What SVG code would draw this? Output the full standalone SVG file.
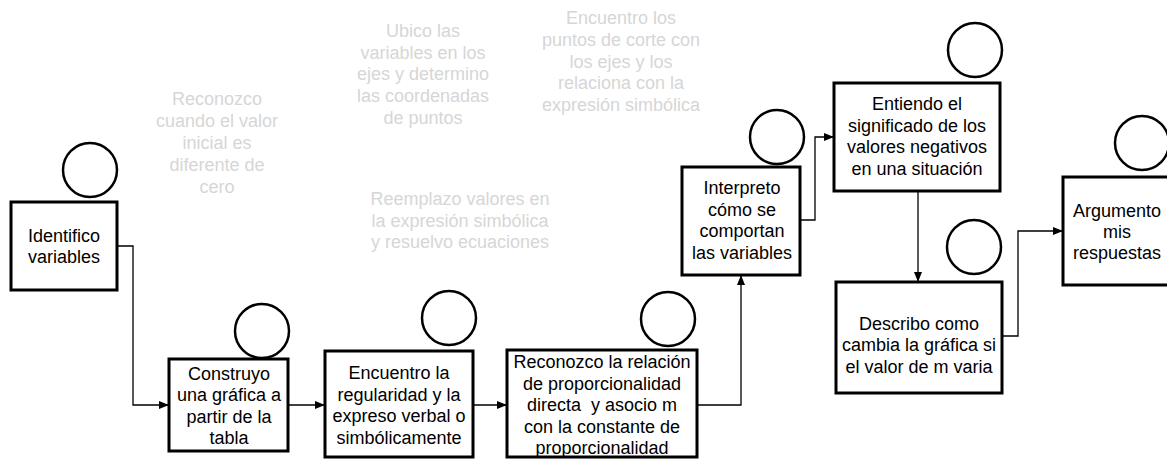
<svg xmlns="http://www.w3.org/2000/svg" width="1167" height="459" viewBox="0 0 1167 459">
<style>
  .box { fill: #ffffff; stroke: #000000; stroke-width: 3; }
  .circ { fill: #ffffff; stroke: #000000; stroke-width: 2.5; }
  .t { font-family: "Liberation Sans", Arial, sans-serif; font-size: 18px; fill: #000000; text-anchor: middle; }
  .g { font-family: "Liberation Sans", Arial, sans-serif; font-size: 18px; fill: #d6d6d6; text-anchor: middle; }
  .c { fill: none; stroke: #000000; stroke-width: 1.3; marker-end: url(#arr); }
</style>
<defs>
  <marker id="arr" viewBox="0 0 10 10" refX="10" refY="5" markerWidth="10" markerHeight="10" markerUnits="userSpaceOnUse" orient="auto">
    <path d="M0,1 L10,5 L0,9 Z" fill="#000000"/>
  </marker>
</defs>
<rect width="1167" height="459" fill="#ffffff"/>

<g id="notes">
  <text class="g" x="217" y="105">Reconozco</text>
  <text class="g" x="217" y="127">cuando el valor</text>
  <text class="g" x="217" y="149">inicial es</text>
  <text class="g" x="217" y="171">diferente de</text>
  <text class="g" x="217" y="193">cero</text>

  <text class="g" x="423" y="37">Ubico las</text>
  <text class="g" x="423" y="59">variables en los</text>
  <text class="g" x="423" y="80">ejes y determino</text>
  <text class="g" x="423" y="102">las coordenadas</text>
  <text class="g" x="423" y="124">de puntos</text>

  <text class="g" x="621" y="24">Encuentro los</text>
  <text class="g" x="621" y="46">puntos de corte con</text>
  <text class="g" x="621" y="68">los ejes y los</text>
  <text class="g" x="621" y="89">relaciona con la</text>
  <text class="g" x="621" y="111">expresión simbólica</text>

  <text class="g" x="460" y="205">Reemplazo valores en</text>
  <text class="g" x="460" y="227">la expresión simbólica</text>
  <text class="g" x="460" y="248">y resuelvo ecuaciones</text>
</g>

<g id="connectors">
  <polyline class="c" points="117,246 133,246 133,405 169,405"/>
  <polyline class="c" points="288,405 325,405"/>
  <polyline class="c" points="473,405 507,405"/>
  <polyline class="c" points="697,405 741,405 741,275"/>
  <polyline class="c" points="800,220 815,220 815,137 834,137"/>
  <polyline class="c" points="918,191 918,282"/>
  <polyline class="c" points="1002,336 1018,336 1018,231 1063,231"/>
</g>

<g id="n1">
  <circle class="circ" cx="90" cy="170" r="27"/>
  <rect class="box" x="11" y="202" width="106" height="88"/>
  <text class="t" x="64" y="242">Identifico</text>
  <text class="t" x="64" y="263">variables</text>
</g>

<g id="n2">
  <circle class="circ" cx="262" cy="331" r="27"/>
  <rect class="box" x="169" y="359" width="119" height="92"/>
  <text class="t" x="229" y="380">Construyo</text>
  <text class="t" x="229" y="401">una gráfica a</text>
  <text class="t" x="229" y="423">partir de la</text>
  <text class="t" x="229" y="444">tabla</text>
</g>

<g id="n3">
  <circle class="circ" cx="449" cy="318" r="27"/>
  <rect class="box" x="325" y="351" width="148" height="106"/>
  <text class="t" x="399" y="379">Encuentro la</text>
  <text class="t" x="399" y="401">regularidad y la</text>
  <text class="t" x="399" y="422">expreso verbal o</text>
  <text class="t" x="399" y="444">simbólicamente</text>
</g>

<g id="n4">
  <circle class="circ" cx="668" cy="319" r="27"/>
  <rect class="box" x="507" y="350" width="190" height="107"/>
  <text class="t" x="602" y="368">Reconozco la relación</text>
  <text class="t" x="602" y="390">de proporcionalidad</text>
  <text class="t" x="602" y="411" style="white-space:pre">directa  y asocio m</text>
  <text class="t" x="602" y="433">con la constante de</text>
  <text class="t" x="602" y="454">proporcionalidad</text>
</g>

<g id="n5">
  <circle class="circ" cx="777" cy="137" r="27"/>
  <rect class="box" x="682" y="167" width="118" height="108"/>
  <text class="t" x="742" y="194">Interpreto</text>
  <text class="t" x="742" y="216">cómo se</text>
  <text class="t" x="742" y="237">comportan</text>
  <text class="t" x="742" y="259">las variables</text>
</g>

<g id="n6">
  <circle class="circ" cx="975" cy="50" r="27"/>
  <rect class="box" x="834" y="83" width="166" height="108"/>
  <text class="t" x="917" y="110">Entiendo el</text>
  <text class="t" x="917" y="132">significado de los</text>
  <text class="t" x="917" y="153">valores negativos</text>
  <text class="t" x="917" y="175">en una situación</text>
</g>

<g id="n7">
  <circle class="circ" cx="974" cy="247" r="27"/>
  <rect class="box" x="836" y="282" width="166" height="111"/>
  <text class="t" x="919" y="330">Describo como</text>
  <text class="t" x="919" y="351">cambia la gráfica si</text>
  <text class="t" x="919" y="373">el valor de m varia</text>
</g>

<g id="n8">
  <circle class="circ" cx="1142" cy="143" r="27"/>
  <rect class="box" x="1063" y="177" width="110" height="108"/>
  <text class="t" x="1117" y="217">Argumento</text>
  <text class="t" x="1117" y="238">mis</text>
  <text class="t" x="1117" y="259">respuestas</text>
</g>
</svg>
